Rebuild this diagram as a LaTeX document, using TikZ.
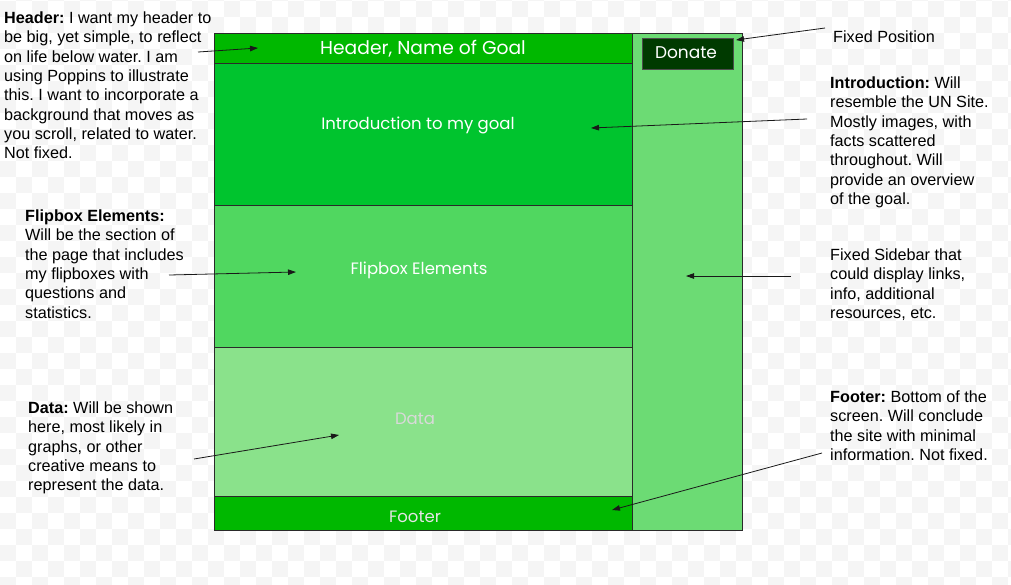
\documentclass[tikz,border=0pt]{standalone}
\usepackage{fontspec}
\setmainfont{Liberation Sans}
\newfontfamily\popfont{Poppins}
\usetikzlibrary{arrows.meta}
\frenchspacing

\definecolor{checkgray}{HTML}{F5F5F5}
\definecolor{hdrgreen}{HTML}{00B800}
\definecolor{introgreen}{HTML}{00C42E}
\definecolor{flipgreen}{HTML}{50D760}
\definecolor{datagreen}{HTML}{8AE28B}
\definecolor{sidegreen}{HTML}{6CDB74}
\definecolor{donategreen}{HTML}{003A00}
\definecolor{edge}{HTML}{2A2A2A}

\tikzset{
  panel/.style={draw=edge, line width=0.9pt, inner sep=0pt, outer sep=0pt,
                anchor=north west, minimum width=#1},
  panel/.default=418pt,
  boxlabel/.style={font=\popfont\fontsize{16.5}{19}\selectfont, text=white, inner sep=0pt},
  note/.style={font=\fontsize{16.2}{19.35}\selectfont, align=left, anchor=north west,
               inner sep=0pt, text=black},
  pointer/.style={draw=black!90, line width=0.8pt,
                  -{Triangle[length=8pt,width=5.5pt]}},
}

\begin{document}
\frenchspacing
\begin{tikzpicture}[x=1pt,y=-1pt]
\useasboundingbox (0,0) rectangle (1011,584);

% transparent-style checkerboard backdrop
\fill[white] (0,0) rectangle (1011,584);
\begin{scope}
  \clip (0,0) rectangle (1011,584);
  \foreach \i in {0,...,63}{
    \foreach \j in {-1,...,36}{
      \pgfmathtruncatemacro{\cellpar}{mod(\i+\j+2,2)}
      \ifnum\cellpar=0
        \fill[checkgray] (16*\i,16*\j+1) rectangle ++(16,16);
      \fi
    }
  }
\end{scope}

% page layout blocks
\node[panel=110pt, fill=sidegreen, minimum height=497pt] (side) at (632,33) {};
\node[panel, fill=hdrgreen,   minimum height=30pt]  (hdr)   at (214,33)  {};
\node[panel, fill=introgreen, minimum height=142pt] (intro) at (214,63)  {};
\node[panel, fill=flipgreen,  minimum height=142pt] (flip)  at (214,205) {};
\node[panel, fill=datagreen,  minimum height=149pt] (data)  at (214,347) {};
\node[panel, fill=hdrgreen,   minimum height=34pt]  (foot)  at (214,496) {};
\node[panel=91pt, fill=donategreen, minimum height=31pt, draw=black!70] (donate) at (642,38) {};

% block captions
\node[boxlabel, font=\popfont\fontsize{18.7}{22}\selectfont] (hdrtxt) at (423,49) {Header, Name of Goal};
\node[boxlabel] (introtxt) at (418,125) {Introduction to my goal};
\node[boxlabel] (fliptxt)  at (419,270) {Flipbox Elements};
\node[boxlabel, text=black!15] (datatxt) at (415,418.5) {Data};
\node[boxlabel, text=black!10] (foottxt) at (415,516.5) {Footer};
\node[boxlabel, font=\popfont\fontsize{17}{20}\selectfont] (donatetxt) at (686,52.5) {Donate};

% annotations
\node[note] (nhdr) at (4,11.5) {\textbf{Header:} I want my header to\\be big, yet simple, to reflect\\on life below water. I am\\using Poppins to illustrate\\this. I want to incorporate a\\background that moves as\\you scroll, related to water.\\Not fixed.};
\node[note] (nflip) at (25,209.5) {\textbf{Flipbox Elements:}\\Will be the section of\\the page that includes\\my flipboxes with\\questions and\\statistics.};
\node[note] (ndata) at (28,401.5) {\textbf{Data:} Will be shown\\here, most likely in\\graphs, or other\\creative means to\\represent the data.};
\node[note] (nfixed) at (833,31) {Fixed Position};
\node[note] (nintro) at (830,76.5) {\textbf{Introduction:} Will\\resemble the UN Site.\\Mostly images, with\\facts scattered\\throughout. Will\\provide an overview\\of the goal.};
\node[note] (nside) at (830,248.5) {Fixed Sidebar that\\could display links,\\info, additional\\resources, etc.};
\node[note] (nfoot) at (830,390.5) {\textbf{Footer:} Bottom of the\\screen. Will conclude\\the site with minimal\\information. Not fixed.};

% pointer ends
\coordinate (hdrA) at (198,52);   \coordinate (hdrB) at (258,48);
\coordinate (fixA) at (825,28);   \coordinate (fixB) at (736,40);
\coordinate (intA) at (807,119);  \coordinate (intB) at (591,128);
\coordinate (flpA) at (169,275);  \coordinate (flpB) at (296,272);
\coordinate (sidA) at (791,276);  \coordinate (sidB) at (686,276);
\coordinate (datA) at (194,459);  \coordinate (datB) at (339,435);
\coordinate (ftrA) at (822,453);  \coordinate (ftrB) at (612,510);

\draw[pointer] (hdrA) -- (hdrB);
\draw[pointer] (fixA) -- (fixB);
\draw[pointer] (intA) -- (intB);
\draw[pointer] (flpA) -- (flpB);
\draw[pointer] (sidA) -- (sidB);
\draw[pointer] (datA) -- (datB);
\draw[pointer] (ftrA) -- (ftrB);
\end{tikzpicture}
\end{document}
